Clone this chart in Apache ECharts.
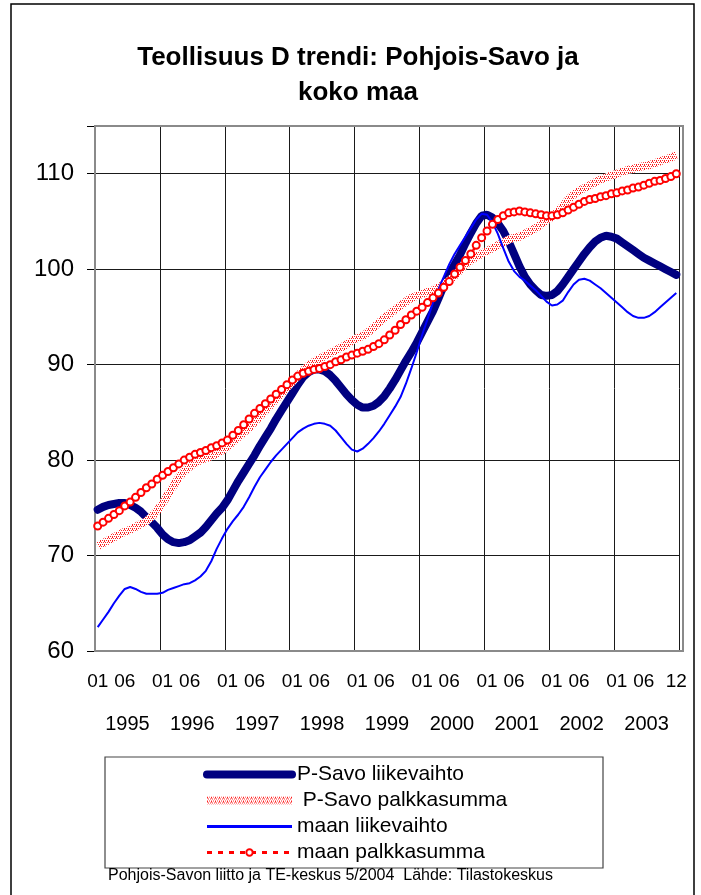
<!DOCTYPE html>
<html>
<head>
<meta charset="utf-8">
<script src="https://cdn.jsdelivr.net/npm/echarts@6/dist/echarts.min.js"></script>
<style>
    html, body { margin: 0; padding: 0; background: #fff; }
    .trend .chart { width: 701px; height: 895px; }
</style>
</head>
<body>
<div class="trend"><div class="chart"></div></div>
<script>
// Teollisuus D trendi, kuukausittain 1995/01 - 2003/12
var years = ['1995', '1996', '1997', '1998', '1999', '2000', '2001', '2002', '2003'];
var monthNames = ['01', '02', '03', '04', '05', '06', '07', '08', '09', '10', '11', '12'];
var shownMonths = ['01', '06'];
var yTicks = { min: 60, max: 115, step: 10 };

var psavoLiikevaihto = [
    74.8, 75.1, 75.3, 75.4, 75.5, 75.5, 75.3, 75.0, 74.6, 74.0, 73.5, 72.9,
    72.2, 71.7, 71.4, 71.3, 71.4, 71.6, 72.0, 72.4, 73.0, 73.7, 74.4, 75.0,
    75.8, 76.8, 77.8, 78.7, 79.6, 80.5, 81.5, 82.4, 83.3, 84.3, 85.2, 86.1,
    87.0, 87.9, 88.7, 89.2, 89.5, 89.5, 89.3, 88.9, 88.3, 87.6, 86.9, 86.3,
    85.8, 85.5, 85.5, 85.7, 86.1, 86.7, 87.5, 88.4, 89.4, 90.4, 91.3, 92.3,
    93.4, 94.5, 95.6, 96.9, 98.3, 99.5, 100.5, 101.5, 102.7, 103.8, 104.8, 105.6,
    105.7, 105.4, 104.8, 104.0, 102.9, 101.6, 100.3, 99.2, 98.4, 97.8, 97.3, 97.2,
    97.3, 97.7, 98.4, 99.2, 100.0, 100.8, 101.6, 102.3, 102.9, 103.3, 103.5, 103.4,
    103.2, 102.8, 102.4, 102.0, 101.6, 101.2, 100.9, 100.6, 100.3, 100.0, 99.7, 99.4
];
var psavoPalkkasumma = [
    71.0, 71.3, 71.6, 71.9, 72.2, 72.5, 72.7, 73.0, 73.3, 73.6, 74.1, 74.7,
    75.5, 76.4, 77.3, 78.2, 78.8, 79.3, 79.7, 80.0, 80.2, 80.4, 80.7, 81.0,
    81.4, 81.9, 82.4, 82.9, 83.4, 84.0, 84.6, 85.2, 85.8, 86.4, 87.0, 87.6,
    88.2, 88.8, 89.4, 89.9, 90.3, 90.6, 90.9, 91.2, 91.5, 91.8, 92.1, 92.5,
    92.8, 93.0, 93.4, 93.9, 94.4, 94.9, 95.3, 95.8, 96.2, 96.6, 97.0, 97.2,
    97.4, 97.6, 97.8, 98.1, 98.4, 98.8, 99.3, 99.9, 100.5, 100.9, 101.3, 101.6,
    101.9, 102.2, 102.5, 102.8, 103.1, 103.3, 103.4, 103.7, 104.0, 104.3, 104.7, 105.1,
    105.5, 106.0, 106.6, 107.3, 107.8, 108.2, 108.5, 108.8, 109.1, 109.4, 109.6, 109.8,
    110.0, 110.2, 110.4, 110.5, 110.7, 110.8, 110.9, 111.1, 111.3, 111.5, 111.7, 111.9
];
var maanLiikevaihto = [
    62.5, 63.3, 64.1, 65.0, 65.8, 66.5, 66.7, 66.5, 66.2, 66.0, 66.0, 66.0,
    66.1, 66.4, 66.6, 66.8, 67.0, 67.1, 67.4, 67.8, 68.4, 69.4, 70.7, 71.8,
    72.8, 73.6, 74.3, 75.1, 76.1, 77.2, 78.2, 79.0, 79.8, 80.5, 81.1, 81.7,
    82.3, 82.9, 83.3, 83.6, 83.8, 83.9, 83.8, 83.6, 83.1, 82.4, 81.7, 81.1,
    80.9, 81.2, 81.7, 82.3, 83.0, 83.8, 84.7, 85.6, 86.6, 88.0, 89.6, 91.3,
    93.1, 94.8, 96.5, 97.9, 99.2, 100.5, 101.6, 102.5, 103.4, 104.3, 105.2, 105.8,
    105.7, 104.9, 103.7, 102.2, 100.8, 99.8, 99.2, 98.8, 98.3, 97.8, 97.2, 96.6,
    96.2, 96.3, 96.7, 97.6, 98.4, 98.9, 99.0, 98.8, 98.4, 98.0, 97.5, 97.0,
    96.5, 96.0, 95.5, 95.1, 94.9, 94.9, 95.1, 95.5, 96.0, 96.5, 97.0, 97.5
];
var maanPalkkasumma = [
    73.1, 73.5, 73.9, 74.3, 74.7, 75.2, 75.6, 76.1, 76.6, 77.1, 77.5, 78.0,
    78.4, 78.8, 79.2, 79.6, 80.0, 80.3, 80.6, 80.8, 81.0, 81.3, 81.5, 81.8,
    82.1, 82.6, 83.1, 83.7, 84.3, 84.9, 85.4, 85.9, 86.4, 86.9, 87.4, 87.9,
    88.4, 88.8, 89.1, 89.3, 89.5, 89.6, 89.8, 90.0, 90.3, 90.5, 90.8, 91.0,
    91.2, 91.4, 91.6, 91.9, 92.2, 92.6, 93.1, 93.6, 94.2, 94.7, 95.2, 95.6,
    96.0, 96.5, 97.0, 97.5, 98.1, 98.7, 99.5, 100.2, 100.9, 101.6, 102.5, 103.3,
    104.0, 104.7, 105.2, 105.6, 105.9, 106.0, 106.1, 106.0, 105.9, 105.8, 105.7, 105.6,
    105.6, 105.7, 105.9, 106.2, 106.5, 106.8, 107.1, 107.3, 107.4, 107.6, 107.7, 107.9,
    108.0, 108.2, 108.3, 108.5, 108.6, 108.8, 109.0, 109.2, 109.3, 109.5, 109.7, 110.0
];

(function () {
    var myChart = echarts.init(document.querySelector('.trend .chart'), null, { renderer: 'canvas' });
    var font = '"Liberation Sans", Arial, sans-serif';

    // kuukausikategoriat vuosista
    var months = [];
    years.forEach(function (y) {
        monthNames.forEach(function (m) { months.push(y + '-' + m); });
    });

    // vaaleanpunainen pistekuvio (P-Savo palkkasumma)
    var dots = document.createElement('canvas');
    dots.width = 4;
    dots.height = 4;
    var ctx = dots.getContext('2d');
    ctx.fillStyle = '#ffffff';
    ctx.fillRect(0, 0, 4, 4);
    ctx.fillStyle = '#ff2020';
    [[0, 0], [2, 0], [1, 2], [3, 2], [0, 1]].forEach(function (p) {
        ctx.fillRect(p[0], p[1], 1, 1);
    });
    var dotPattern = { image: dots, repeat: 'repeat' };

    var option = {
        animation: false,
        backgroundColor: '#fff',
        title: {
            text: 'Teollisuus D trendi: Pohjois-Savo ja\nkoko maa',
            left: 353,
            top: 35,
            textAlign: 'center',
            textStyle: {
                fontFamily: font,
                fontSize: 26,
                fontWeight: 'bold',
                color: '#000',
                lineHeight: 35
            }
        },
        legend: {
            orient: 'vertical',
            left: 198,
            top: 759,
            itemWidth: 85,
            itemHeight: 8,
            itemGap: 5,
            textStyle: { fontFamily: font, fontSize: 21, color: '#000' },
            data: [
                { name: 'P-Savo liikevaihto', lineStyle: { width: 8 }, itemStyle: { opacity: 0 } },
                { name: ' P-Savo palkkasumma', lineStyle: { width: 8 }, itemStyle: { opacity: 0 } },
                { name: 'maan liikevaihto', lineStyle: { width: 3 }, itemStyle: { opacity: 0 } },
                { name: 'maan palkkasumma', lineStyle: { width: 3 } }
            ]
        },
        grid: {
            left: 95,
            top: 126,
            width: 584,
            height: 525
        },
        xAxis: [
            {
                type: 'category',
                data: months,
                boundaryGap: true,
                axisLine: { show: false },
                axisTick: { show: false },
                splitLine: {
                    show: true,
                    interval: 11,
                    lineStyle: { color: '#1a1a1a', width: 1 }
                },
                axisLabel: {
                    interval: function (index, value) {
                        var m = value.split('-')[1];
                        return shownMonths.indexOf(m) > -1 || index === months.length - 1;
                    },
                    formatter: function (value) { return value.split('-')[1]; },
                    margin: 21,
                    fontFamily: font,
                    fontSize: 19,
                    color: '#000'
                }
            },
            {
                type: 'category',
                data: years,
                position: 'bottom',
                boundaryGap: true,
                axisLine: { show: false },
                axisTick: { show: false },
                splitLine: { show: false },
                axisLabel: {
                    interval: 0,
                    margin: 63,
                    fontFamily: font,
                    fontSize: 20,
                    color: '#000'
                }
            }
        ],
        yAxis: {
            type: 'value',
            min: yTicks.min,
            max: yTicks.max,
            interval: yTicks.step,
            axisLine: { show: true, lineStyle: { color: '#555', width: 2 } },
            axisTick: { show: true, length: 8, lineStyle: { color: '#000' } },
            splitLine: { show: true, lineStyle: { color: '#1a1a1a', width: 1 } },
            axisLabel: {
                margin: 21,
                fontFamily: font,
                fontSize: 24,
                color: '#000',
                formatter: function (v) { return v % yTicks.step === 0 ? v : ''; }
            }
        },
        graphic: [
            // kaavion ulkoreunus
            { type: 'rect', shape: { x: 11, y: 4, width: 683, height: 900 }, style: { fill: 'none', stroke: '#000', lineWidth: 1.5 }, z: -1 },
            // piirtoalueen kehys
            { type: 'rect', shape: { x: 95, y: 126, width: 588, height: 525 }, style: { fill: 'none', stroke: '#8a8a8a', lineWidth: 2 }, z: 1 },
            // selitteen laatikko
            { type: 'rect', shape: { x: 105, y: 757, width: 498, height: 111 }, style: { fill: 'none', stroke: '#444', lineWidth: 1.2 } },
            {
                type: 'text', left: 108, top: 868,
                style: { text: 'Pohjois-Savon liitto ja TE-keskus 5/2004  Lähde: Tilastokeskus', font: '16px ' + font, fill: '#000' }
            }
        ],
        series: [
            {
                name: 'P-Savo liikevaihto',
                type: 'line',
                data: psavoLiikevaihto,
                showSymbol: false,
                symbol: 'none',
                lineStyle: { color: '#000080', width: 8, cap: 'round' },
                itemStyle: { color: '#000080' },
                z: 2
            },
            {
                name: ' P-Savo palkkasumma',
                type: 'line',
                data: psavoPalkkasumma,
                showSymbol: false,
                symbol: 'none',
                lineStyle: { color: dotPattern, width: 8 },
                itemStyle: { color: '#ff8080' },
                z: 3
            },
            {
                name: 'maan liikevaihto',
                type: 'line',
                data: maanLiikevaihto,
                showSymbol: false,
                symbol: 'none',
                lineStyle: { color: '#0000ff', width: 2 },
                itemStyle: { color: '#0000ff' },
                z: 4
            },
            {
                name: 'maan palkkasumma',
                type: 'line',
                data: maanPalkkasumma,
                symbol: 'circle',
                symbolSize: 7,
                showAllSymbol: true,
                lineStyle: { color: '#ff0000', width: 2.5, type: [5, 6] },
                itemStyle: { color: '#ffffff', borderColor: '#ff0000', borderWidth: 2 },
                z: 5
            }
        ]
    };
    myChart.setOption(option);
    window.addEventListener('resize', function () {
        myChart.resize();
    });
})();
</script>
</body>
</html>
